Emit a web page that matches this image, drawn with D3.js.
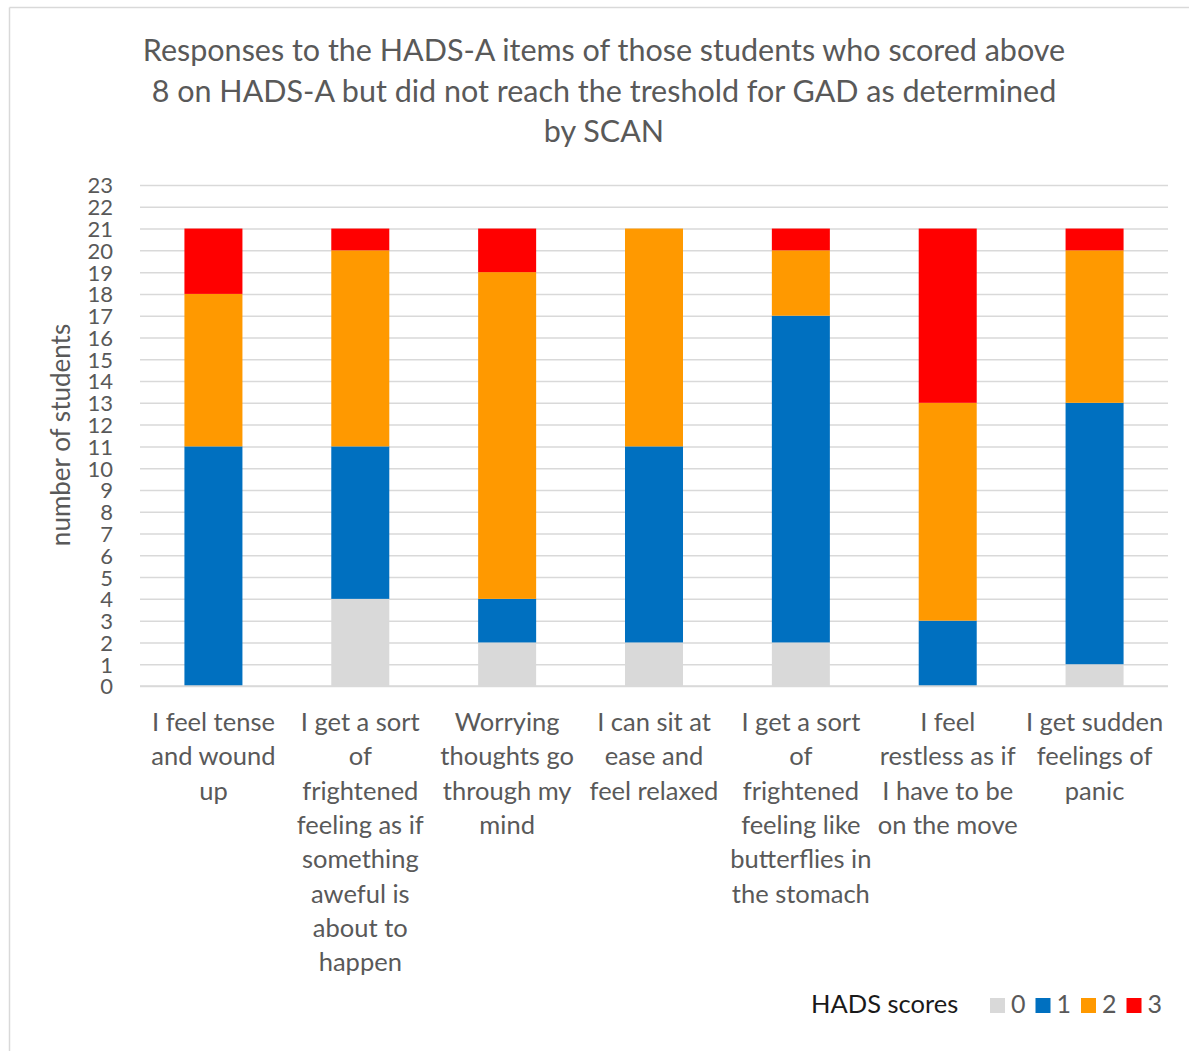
<!DOCTYPE html>
<html>
<head>
<meta charset="utf-8">
<script src="https://cdn.jsdelivr.net/npm/d3@7"></script>
<style>
  html, body { margin: 0; padding: 0; background: #fff; }
  svg { display: block; }
  text { font-family: Lato, "Open Sans", sans-serif; }
</style>
</head>
<body>
<svg id="chart" width="1189" height="1051"></svg>
<script>
// Questionnaire items (line breaks as they wrap under each bar)
const categories = [
  "I feel tense\nand wound\nup",
  "I get a sort\nof\nfrightened\nfeeling as if\nsomething\naweful is\nabout to\nhappen",
  "Worrying\nthoughts go\nthrough my\nmind",
  "I can sit at\nease and\nfeel relaxed",
  "I get a sort\nof\nfrightened\nfeeling like\nbutterflies in\nthe stomach",
  "I feel\nrestless as if\nI have to be\non the move",
  "I get sudden\nfeelings of\npanic"
];

// Number of students giving each HADS score, per item
const score0 = [0, 4, 2, 2, 2, 0, 1];
const score1 = [11, 7, 2, 9, 15, 3, 12];
const score2 = [7, 9, 15, 10, 3, 10, 7];
const score3 = [3, 1, 2, 0, 1, 8, 1];

const seriesKeys = ["0", "1", "2", "3"];
const seriesColors = ["#d9d9d9", "#0070c0", "#ff9900", "#ff0000"];
const yTicks = d3.range(0, 24);

const titleLines = [
  "Responses to the HADS-A items of those students who scored above",
  "8 on HADS-A but did not reach the treshold for GAD as determined",
  "by SCAN"
];

const rows = categories.map((c, i) => ({
  category: c, "0": score0[i], "1": score1[i], "2": score2[i], "3": score3[i]
}));

const svg = d3.select("#chart");
const textColor = "#595959";
const gridColor = "#d9d9d9";

// chart frame
svg.append("line").attr("x1", 9.5).attr("x2", 1189).attr("y1", 7.5).attr("y2", 7.5)
  .attr("stroke", "#d9d9d9").attr("stroke-width", 1.5);
svg.append("line").attr("x1", 9.5).attr("x2", 9.5).attr("y1", 7.5).attr("y2", 1051)
  .attr("stroke", "#d9d9d9").attr("stroke-width", 1.5);

const plot = { left: 140, right: 1168, top: 185, bottom: 686 };

const x = d3.scaleBand()
  .domain(categories)
  .range([plot.left, plot.right])
  .paddingInner(0.605)
  .paddingOuter(0.3025);

const y = d3.scaleLinear()
  .domain([0, 23])
  .range([plot.bottom, plot.top]);

// title
svg.append("g").selectAll("text")
  .data(titleLines)
  .join("text")
  .attr("x", 604)
  .attr("y", (d, i) => 61 + i * 40.5)
  .attr("text-anchor", "middle")
  .attr("font-size", 30.5)
  .attr("fill", textColor)
  .text(d => d);

// gridlines
const yAxisGrid = d3.axisLeft(y).tickValues(yTicks)
  .tickSize(-(plot.right - plot.left)).tickFormat("");
const grid = svg.append("g").attr("transform", `translate(${plot.left},0)`).call(yAxisGrid);
grid.select(".domain").remove();
grid.selectAll("line").attr("stroke", gridColor).attr("stroke-width", 1.5);

// y tick labels
const yAxis = d3.axisLeft(y).tickValues(yTicks).tickSize(0).tickPadding(0).tickFormat(d3.format("d"));
const ya = svg.append("g").attr("transform", "translate(113,0)").call(yAxis);
ya.select(".domain").remove();
ya.selectAll("text")
  .attr("font-family", "Lato, 'Open Sans', sans-serif")
  .attr("font-size", 22)
  .attr("fill", textColor)
  .attr("dy", "0.36em");

// y axis title
svg.append("text")
  .attr("transform", "translate(70,435) rotate(-90)")
  .attr("text-anchor", "middle")
  .attr("font-size", 26)
  .attr("fill", textColor)
  .text("number of students");

// stacked bars
const stacked = d3.stack().keys(seriesKeys)(rows);
const color = d3.scaleOrdinal().domain(seriesKeys).range(seriesColors);

svg.append("g").selectAll("g")
  .data(stacked)
  .join("g")
  .attr("fill", d => color(d.key))
  .selectAll("rect")
  .data(d => d.filter(s => s[1] > s[0]))
  .join("rect")
  .attr("x", d => x(d.data.category))
  .attr("width", x.bandwidth())
  .attr("y", d => y(d[1]))
  .attr("height", d => y(d[0]) - y(d[1]));

// baseline
svg.append("line")
  .attr("x1", plot.left).attr("x2", plot.right)
  .attr("y1", y(0)).attr("y2", y(0))
  .attr("stroke", gridColor).attr("stroke-width", 1.5);

// category labels
const xAxis = d3.axisBottom(x).tickSize(0).tickFormat("");
const xa = svg.append("g").attr("transform", `translate(0,${plot.bottom})`).call(xAxis);
xa.select(".domain").remove();
xa.selectAll(".tick").each(function(d) {
  const t = d3.select(this).append("text")
    .attr("text-anchor", "middle")
    .attr("font-family", "Lato, 'Open Sans', sans-serif")
    .attr("font-size", 25.5)
    .attr("fill", textColor)
    .attr("y", 45);
  d.split("\n").forEach((line, i) => {
    t.append("tspan").attr("x", 0).attr("dy", i === 0 ? 0 : 34.3).text(line);
  });
});

// legend
const legend = svg.append("g");
legend.append("text")
  .attr("x", 811).attr("y", 1013)
  .attr("font-size", 25.5)
  .attr("fill", "#1a1a1a")
  .text("HADS scores");
const items = legend.selectAll("g.item")
  .data(seriesKeys)
  .join("g")
  .attr("class", "item")
  .attr("transform", (d, i) => `translate(${990 + i * 45.5},0)`);
items.append("rect")
  .attr("x", 0).attr("y", 998)
  .attr("width", 15).attr("height", 15)
  .attr("fill", d => color(d));
items.append("text")
  .attr("x", 21).attr("y", 1013)
  .attr("font-size", 25)
  .attr("fill", textColor)
  .text(d => d);
</script>
</body>
</html>
